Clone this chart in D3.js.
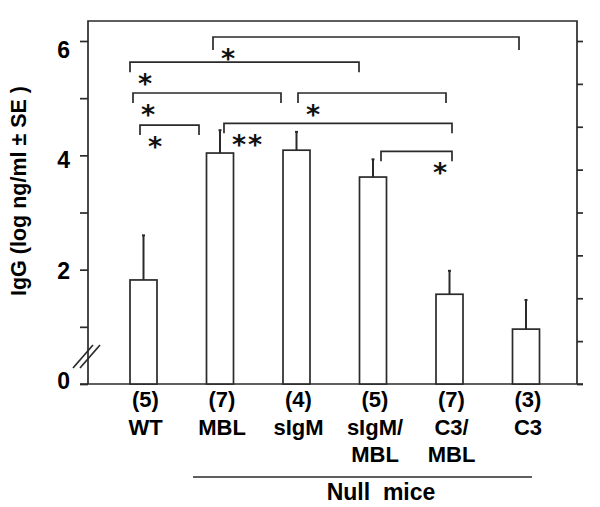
<!DOCTYPE html>
<html>
<head>
<meta charset="utf-8">
<script src="https://cdn.jsdelivr.net/npm/d3@7"></script>
<style>
  body { margin: 0; background: #fff; }
  svg { display: block; font-family: "Liberation Sans", Arial, sans-serif; }
</style>
</head>
<body>
<svg id="chart" width="600" height="507"></svg>
<script>
// group data
const groups = ["WT", "MBL", "sIgM", "sIgM/MBL", "C3/MBL", "C3"];
const counts = [5, 7, 4, 5, 7, 3];
const means = [1.82, 4.04, 4.09, 3.62, 1.57, 0.96];
const errors = [0.78, 0.40, 0.32, 0.31, 0.41, 0.51];

const yTicks = [0, 1, 2, 3, 4, 5, 6];
const yTickLabels = ["0", "", "2", "", "4", "", "6"];

// significance comparisons: [from, to, level (log ng/ml), label]
const comparisons = [
  ["MBL", "C3", 6.07, "*"],
  ["WT", "sIgM/MBL", 5.63, "*"],
  ["WT", "sIgM", 5.09, "*"],
  ["sIgM", "C3/MBL", 5.09, "*"],
  ["WT", "MBL", 4.53, "*"],
  ["MBL", "C3/MBL", 4.56, "**"],
  ["sIgM/MBL", "C3/MBL", 4.07, "*"]
];

const nullMiceLabel = "Null  mice";
const yTitle = "IgG (log ng/ml \u00b1 SE )";

const ink = "#2a2a2a";
const svg = d3.select("#chart");

const plotL = 88, plotR = 577, plotT = 21, plotB = 384;

const y = d3.scaleLinear().domain([0, 6]).range([plotB, 41]);
// the printed tick numbers sit on a slightly tighter spacing than the ticks
const yLabel = d3.scaleLinear().domain([0, 6]).range([380.5, 49.5]);
const yRight = d3.scaleLinear().domain([0, 8]).range([plotB, 41]);
const x = d3.scalePoint().domain(groups).range([143.5, 526]);
const barW = 27;

// frame
svg.append("path")
  .attr("d", `M${plotL},${plotB}V${plotT}H${plotR}V${plotB}`)
  .attr("fill", "none").attr("stroke", ink).attr("stroke-width", 1.7);
svg.append("line")
  .attr("x1", 80).attr("x2", 583).attr("y1", plotB).attr("y2", plotB)
  .attr("stroke", ink).attr("stroke-width", 1.7);

// left axis
const gl = svg.append("g").attr("transform", `translate(${plotL},0)`)
  .call(d3.axisLeft(y).tickValues(yTicks).tickSize(8).tickPadding(10)
    .tickFormat((d, i) => yTickLabels[i]));
gl.select(".domain").remove();
gl.selectAll(".tick line").attr("stroke", ink).attr("stroke-width", 1.7);
gl.selectAll(".tick text")
  .attr("font-size", 23).attr("font-weight", "bold").attr("fill", "#000")
  .attr("font-family", "Liberation Sans, Arial, sans-serif")
  .attr("dy", null)
  .attr("dominant-baseline", "central")
  .attr("y", d => yLabel(d) - y(d));

// right axis, ticks only
const gr = svg.append("g").attr("transform", `translate(${plotR},0)`)
  .call(d3.axisRight(yRight).ticks(8).tickSize(6).tickFormat(""));
gr.select(".domain").remove();
gr.selectAll(".tick line").attr("stroke", ink).attr("stroke-width", 1.7);

// axis break
[0, 7].forEach(dx => {
  svg.append("line")
    .attr("x1", 73 + dx).attr("y1", 368).attr("x2", 93 + dx).attr("y2", 345)
    .attr("stroke", ink).attr("stroke-width", 1.7);
});

// y title
svg.append("text")
  .attr("transform", `translate(26,191) rotate(-90)`)
  .attr("text-anchor", "middle")
  .attr("font-size", 21.5).attr("font-weight", "bold")
  .text(yTitle);

// bars with upper error whisker
const bars = svg.append("g");
groups.forEach((g, i) => {
  const cx = x(g);
  bars.append("line")
    .attr("x1", cx).attr("x2", cx)
    .attr("y1", y(means[i])).attr("y2", y(means[i] + errors[i]))
    .attr("stroke", ink).attr("stroke-width", 2);
  bars.append("line")
    .attr("x1", cx - 1.5).attr("x2", cx + 1.5)
    .attr("y1", y(means[i] + errors[i])).attr("y2", y(means[i] + errors[i]))
    .attr("stroke", ink).attr("stroke-width", 2);
  bars.append("rect")
    .attr("x", cx - barW / 2).attr("y", y(means[i]))
    .attr("width", barW).attr("height", y(0) - y(means[i]))
    .attr("fill", "#fff").attr("stroke", ink).attr("stroke-width", 1.7);
});

// group labels
const lab = svg.append("g")
  .attr("font-size", 22).attr("font-weight", "bold").attr("text-anchor", "middle");
groups.forEach((g, i) => {
  const lines = [`(${counts[i]})`].concat(g.replace("/", "/\n").split("\n"));
  lines.forEach((t, k) => {
    lab.append("text").attr("x", x(g) + 2).attr("y", 407 + k * 27.5).text(t);
  });
});

// null mice bracket
svg.append("line")
  .attr("x1", x("MBL") - 27).attr("x2", x("C3") + 6)
  .attr("y1", 477).attr("y2", 477)
  .attr("stroke", ink).attr("stroke-width", 1.7);
svg.append("text")
  .attr("x", (x("MBL") + x("C3")) / 2 + 8).attr("y", 500)
  .attr("text-anchor", "middle").attr("font-size", 23).attr("font-weight", "bold")
  .style("white-space", "pre")
  .text(nullMiceLabel);

// significance brackets
const bracketNudge = [[-7, -7], [-13.5, -14], [-10.5, -15.5], [1.5, -3.5], [-3.5, -21], [4, 2.5], [8, 2.5]];
const br = svg.append("g");
comparisons.forEach(([a, b, lvl, label], i) => {
  const x1 = x(a) + bracketNudge[i][0];
  const x2 = x(b) + bracketNudge[i][1];
  const yy = y(lvl);
  const drop = i === 0 ? 13 : 10;
  br.append("path")
    .attr("d", `M${x1},${yy + drop}V${yy}H${x2}V${yy + drop}`)
    .attr("fill", "none").attr("stroke", ink).attr("stroke-width", 1.7);
  const atRight = i === comparisons.length - 1;
  br.append("text")
    .attr("x", atRight ? x2 - 19 : x1 + 8)
    .attr("y", yy + 14 + 17)
    .attr("text-anchor", "start")
    .attr("font-family", "DejaVu Sans, sans-serif")
    .attr("font-size", 27).attr("font-weight", "bold")
    .attr("letter-spacing", label.length > 1 ? 2 : 0)
    .attr("fill", "#111")
    .text(label);
});
</script>
</body>
</html>
